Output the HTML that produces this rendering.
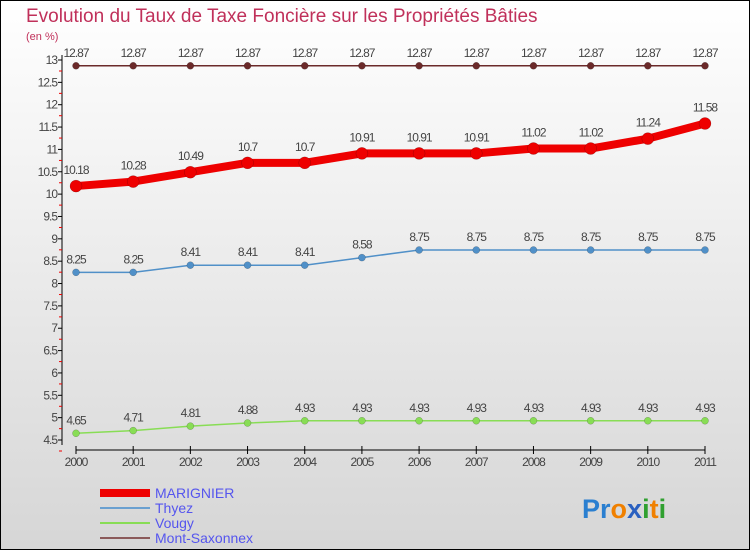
<!DOCTYPE html>
<html><head><meta charset="utf-8"><style>
body{margin:0;}
svg{display:block;font-family:"Liberation Sans",sans-serif;}
</style></head><body>
<svg id="c" width="750" height="550" xmlns="http://www.w3.org/2000/svg">
<defs><linearGradient id="bg" x1="0" y1="0" x2="0" y2="1"><stop offset="0" stop-color="#ffffff"/><stop offset="1" stop-color="#d6d6d6"/></linearGradient></defs>
<rect x="0.5" y="0.5" width="749" height="549" fill="url(#bg)" stroke="#000"/>
<text x="26" y="22" font-size="19" fill="#c0305a">Evolution du Taux de Taxe Foncière sur les Propriétés Bâties</text>
<text x="26" y="40" font-size="11" fill="#c0305a">(en %)</text>
<g id="axes"></g><g id="series"></g>
<g>
<rect x="100" y="489" width="50" height="8" fill="#e00"/>
<text x="155" y="498" font-size="14" fill="#5555ee">MARIGNIER</text>
<line x1="100" y1="508" x2="150" y2="508" stroke="#6aa0d0" stroke-width="2"/>
<text x="155" y="513" font-size="14" fill="#5555ee">Thyez</text>
<line x1="100" y1="523" x2="150" y2="523" stroke="#88dd55" stroke-width="2"/>
<text x="155" y="528" font-size="14" fill="#5555ee">Vougy</text>
<line x1="100" y1="538" x2="150" y2="538" stroke="#8b5a5a" stroke-width="2"/>
<text x="155" y="543" font-size="14" fill="#5555ee">Mont-Saxonnex</text>
</g>
<text x="582" y="518" font-size="27" font-weight="bold"><tspan fill="#2a7fd0">Pr</tspan><tspan fill="#f08000">o</tspan><tspan fill="#2a60c0">x</tspan><tspan fill="#30a030">i</tspan><tspan fill="#f08000">t</tspan><tspan fill="#30a030">i</tspan></text>
</svg>
<script>
const years=["2000","2001","2002","2003","2004","2005","2006","2007","2008","2009","2010","2011"];
const marignier=[10.18,10.28,10.49,10.7,10.7,10.91,10.91,10.91,11.02,11.02,11.24,11.58];
const thyez=[8.25,8.25,8.41,8.41,8.41,8.58,8.75,8.75,8.75,8.75,8.75,8.75];
const vougy=[4.65,4.71,4.81,4.88,4.93,4.93,4.93,4.93,4.93,4.93,4.93,4.93];
const montSaxonnex=[12.87,12.87,12.87,12.87,12.87,12.87,12.87,12.87,12.87,12.87,12.87,12.87];
const yTicks=[4.5,5,5.5,6,6.5,7,7.5,8,8.5,9,9.5,10,10.5,11,11.5,12,12.5,13];
const NS="http://www.w3.org/2000/svg";
const yMin=4.5,yMax=13,yTop=60,yBot=440;
const sy=v=>yBot-(v-yMin)/(yMax-yMin)*(yBot-yTop);
const sx=i=>76+i*(705-76)/(years.length-1);
function mk(p,tag,a){const e=document.createElementNS(NS,tag);for(const k in a)e.setAttribute(k,a[k]);p.appendChild(e);return e;}
const ax=document.getElementById('axes');
let l=mk(ax,'line',{x1:62,y1:55,x2:62,y2:445,stroke:'#000'});


l=mk(ax,'line',{x1:76,y1:450,x2:705,y2:450,stroke:'#000'});


yTicks.forEach(v=>{const y=sy(v);
 const t=mk(ax,'line',{x1:58,y1:y,x2:62,y2:y,stroke:'#000'});
 
 
 const r=mk(ax,'line',{x1:59,y1:y+11,x2:62,y2:y+11,stroke:'#e00'});
 
 
 const tx=mk(ax,'text',{x:57,y:y+4,'font-size':12,fill:'#444','text-anchor':'end','letter-spacing':'-1'});
 tx.textContent=String(v);
 
 });
years.forEach((yr,i)=>{const x=sx(i);
 const t=mk(ax,'line',{x1:x,y1:446,x2:x,y2:454,stroke:'#000'});
 
 
 const tx=mk(ax,'text',{x:x,y:466,'font-size':12,fill:'#444','text-anchor':'middle','letter-spacing':'-1'});
 tx.textContent=yr;
 
 });
const sg=document.getElementById('series');
function series(data,color,w,r,name,dy){
 const pts=data.map((v,i)=>sx(i)+','+sy(v)).join(' ');
 const pl=mk(sg,'polyline',{points:pts,fill:'none',stroke:color,'stroke-width':w,'stroke-linejoin':'round'});
 
 
 data.forEach((v,i)=>{
  const c=mk(sg,'circle',{cx:sx(i),cy:sy(v),r:r,fill:color,stroke:'rgba(0,0,0,0.3)','stroke-width':0.5});
  
  
  const t=mk(sg,'text',{x:sx(i),y:sy(v)-dy,'font-size':12,fill:'#444','text-anchor':'middle','letter-spacing':'-1'});
  t.textContent=String(v);
  
  });}
series(montSaxonnex,'#6b2a2a',1.5,3.5,'mont-saxonnex',9);
series(vougy,'#88dd55',1.5,3.5,'vougy',9);
series(thyez,'#5090c8',1.5,3.5,'thyez',9);
series(marignier,'#ee0000',8,6,'marignier',12);
</script>
</body></html>
